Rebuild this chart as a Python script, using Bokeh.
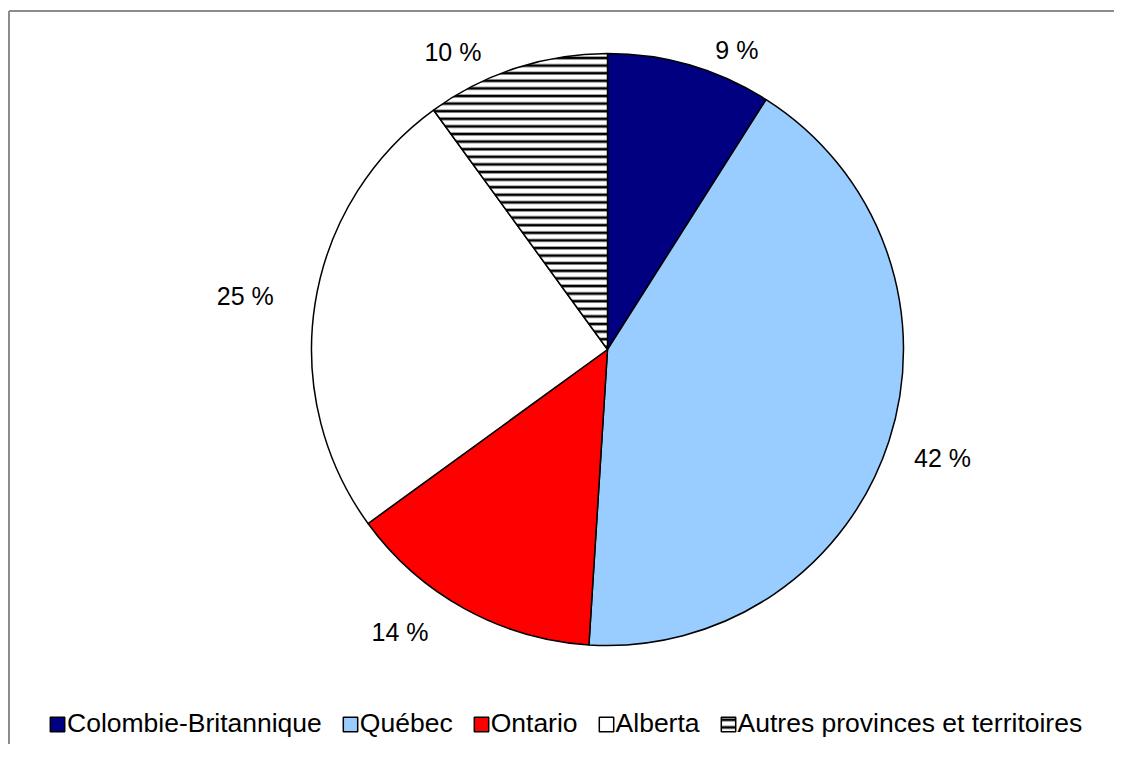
import math
from bokeh.plotting import figure
from bokeh.models import ColumnDataSource, Range1d, Legend, LegendItem
from bokeh.core.properties import value
from bokeh.embed import file_html
from bokeh.resources import INLINE

# ---- data ----
regions = ["Colombie-Britannique", "Québec", "Ontario", "Alberta",
           "Autres provinces et territoires"]
shares = [9, 42, 14, 25, 10]
colors = ["#000080", "#99CCFF", "#FF0000", "#FFFFFF", "#FFFFFF"]
hatches = [" ", " ", " ", " ", "-"]

# ---- layout (screen-like data space, 1 unit = 1 px) ----
W, H = 1114, 744
CX, CY, R = 607, 395, 296
FONT = "Liberation Sans"

total = float(sum(shares))
starts, ends, mids = [], [], []
cum = 0.0
for v in shares:
    a0 = cum / total * 2 * math.pi
    cum += v
    a1 = cum / total * 2 * math.pi
    ends.append(math.pi / 2 - a0)
    starts.append(math.pi / 2 - a1)
    mids.append((a0 + a1) / 2)

src = ColumnDataSource(dict(region=regions, share=shares, color=colors,
                            hatch=hatches, start=starts, end=ends))

# label positions: outside the pie at the mid-angle of each slice
GAP, HW, HH, DX, DY = 10, 52, 10, -8, -4
lx, ly, lt = [], [], []
for m, v in zip(mids, shares):
    sx, sy = math.sin(m), math.cos(m)
    x = CX + (R + GAP) * sx + HW * (1 if sx > 0 else -1) + DX
    y = CY + (R + GAP) * sy + HH * (1 if sy > 0 else -1) + DY
    lx.append(x)
    ly.append(y)
    lt.append(f"{v} %")
lab = ColumnDataSource(dict(x=lx, y=ly, text=lt))

p = figure(width=W, height=H, output_backend="svg", toolbar_location=None,
           x_range=Range1d(0, W), y_range=Range1d(0, H), min_border=0)
p.axis.visible = False
p.grid.visible = False
p.outline_line_color = None
p.background_fill_color = "white"
p.border_fill_color = "white"

# chart-area frame (only its top and left edges are inside the picture)
p.segment(x0=[8.5, 8.5], y0=[733.5, 733.5], x1=[8.5, W + 20], y1=[-20, 733.5],
          line_color="#8c8c8c", line_width=2)

r = p.wedge(x=CX, y=CY, radius=R, start_angle="start", end_angle="end",
            direction="anticlock", source=src,
            fill_color="color", line_color="black", line_width=1.5,
            hatch_pattern="hatch", hatch_color="black",
            hatch_scale=7.6, hatch_weight=2.7)

p.text(x="x", y="y", text="text", source=lab,
       text_font=value(FONT), text_font_size="25px", text_color="black",
       text_align="center", text_baseline="middle")

items = [LegendItem(label=regions[i], renderers=[r], index=i)
         for i in range(len(regions))]
legend = Legend(items=items, location=(48, 5), orientation="horizontal",
                glyph_width=18, glyph_height=18, label_standoff=1, spacing=19,
                label_text_font=FONT, label_text_font_size="26.5px",
                label_text_color="black", label_height=28,
                padding=0, margin=0, border_line_alpha=0,
                background_fill_alpha=0)
p.add_layout(legend)

open("out.html", "w").write(file_html(p, INLINE))
